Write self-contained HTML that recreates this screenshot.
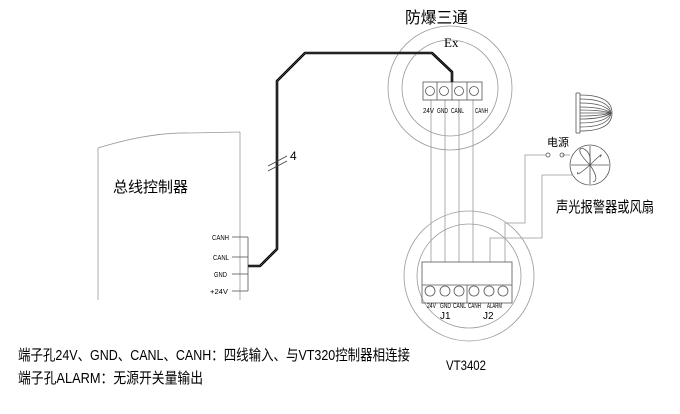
<!DOCTYPE html>
<html><head><meta charset="utf-8"><style>
html,body{margin:0;padding:0;background:#fff;}
svg{display:block;}
text{font-family:"Liberation Sans","Noto Sans CJK SC",sans-serif;fill:#000;}
</style></head><body>
<svg width="680" height="414" viewBox="0 0 680 414" xmlns="http://www.w3.org/2000/svg">
<g fill="none" stroke="#999" stroke-width="0.8">
<circle cx="450" cy="88" r="62"/>
<circle cx="450" cy="88" r="48"/>
<circle cx="469" cy="276" r="65"/>
<circle cx="469" cy="276" r="52"/>
<path d="M98,148 Q150,132 190,133 L240,132"/>
<line x1="98" y1="148" x2="98" y2="300"/>
<line x1="240" y1="132" x2="240" y2="300"/>
<line x1="431" y1="100" x2="431" y2="262"/>
<line x1="445" y1="100" x2="445" y2="262"/>
<line x1="459" y1="100" x2="459" y2="262"/>
<line x1="473" y1="100" x2="473" y2="262"/>
<polyline points="505,262 505,223 525,223 525,155 546,155"/>
<polyline points="490,262 490,238 542,238 542,175 572,175"/>
<line x1="562" y1="155" x2="570" y2="155"/>
</g>
<g fill="none" stroke="#555" stroke-width="0.8">
<rect x="423" y="82" width="59" height="18"/>
<line x1="437" y1="82" x2="437" y2="100"/>
<line x1="452" y1="82" x2="452" y2="100"/>
<line x1="467" y1="82" x2="467" y2="100"/>
<circle cx="430" cy="91" r="4.5"/><circle cx="444" cy="91" r="4.5"/><circle cx="459" cy="91" r="4.5"/><circle cx="474" cy="91" r="4.5"/>
<rect x="422" y="262" width="90" height="41"/>
<line x1="422" y1="285" x2="512" y2="285"/>
<line x1="467" y1="285" x2="467" y2="303"/>
<circle cx="430" cy="291" r="5"/><circle cx="445" cy="291" r="5"/><circle cx="459" cy="291" r="5"/><circle cx="474" cy="291" r="5"/><circle cx="489" cy="291" r="5"/><circle cx="503" cy="291" r="5"/>
<line x1="232" y1="237" x2="248" y2="237"/>
<line x1="232" y1="257" x2="248" y2="257"/>
<line x1="232" y1="274" x2="248" y2="274"/>
<line x1="232" y1="291" x2="248" y2="291"/>
<line x1="248" y1="237" x2="248" y2="291"/>
<circle cx="590" cy="165" r="20"/>
<line x1="571" y1="165" x2="609" y2="165"/>
<line x1="590" y1="146" x2="590" y2="184"/>
<path d="M590,165 Q575,150 582,148 Q592,152 590,165 M590,165 Q605,150 600,157 M590,165 Q600,180 593,182 M590,165 Q575,178 578,172"/>
<line x1="576" y1="93" x2="576" y2="133"/>
<line x1="576" y1="93" x2="580" y2="93"/><line x1="576" y1="133" x2="580" y2="133"/>
<line x1="580" y1="93" x2="580" y2="133"/>
<path d="M580,95 Q612,95 612,113 Q612,131 580,131"/>
<path d="M580,99 Q609,99 611,113 Q609,127 580,127"/>
<path d="M580,103 Q606,103 611,113 Q606,123 580,123"/>
<path d="M580,107 Q603,107 611,113 Q603,119 580,119"/>
<path d="M580,110 Q600,110 611,113 Q600,116 580,116"/>
<line x1="580" y1="113" x2="611" y2="113"/>
<circle cx="548" cy="155" r="2"/><circle cx="562" cy="155" r="2"/>
</g>
<polyline points="248,266 260,266 277,249 277,81 305,53 432,53 452,72 452,82" fill="none" stroke="#000" stroke-width="2.6" stroke-linejoin="round"/>
<polyline points="248,266 260,266 277,249 277,81 305,53 432,53 452,72 452,82" fill="none" stroke="#888" stroke-width="0.5"/>
<line x1="268" y1="166" x2="287" y2="156" stroke="#444" stroke-width="0.8"/>
<line x1="268" y1="171" x2="287" y2="161" stroke="#444" stroke-width="0.8"/>
<text x="290" y="160" font-size="12">4</text>
<text x="405" y="23" font-size="16" textLength="63" lengthAdjust="spacingAndGlyphs">防爆三通</text>
<text x="444" y="47" font-size="13" style="font-family:'Liberation Serif',serif">Ex</text>
<g font-size="7.5">
<text x="423" y="113" textLength="11" lengthAdjust="spacingAndGlyphs">24V</text>
<text x="437" y="113" textLength="11" lengthAdjust="spacingAndGlyphs">GND</text>
<text x="451" y="113" textLength="13" lengthAdjust="spacingAndGlyphs">CANL</text>
<text x="475" y="113" textLength="13" lengthAdjust="spacingAndGlyphs">CANH</text>
<text x="427" y="308" textLength="9" lengthAdjust="spacingAndGlyphs">24V</text>
<text x="440" y="308" textLength="11" lengthAdjust="spacingAndGlyphs">GND</text>
<text x="453" y="308" textLength="13" lengthAdjust="spacingAndGlyphs">CANL</text>
<text x="468" y="308" textLength="13" lengthAdjust="spacingAndGlyphs">CANH</text>
<text x="487" y="308" textLength="15" lengthAdjust="spacingAndGlyphs">ALARM</text>
<text x="212" y="240" textLength="17" lengthAdjust="spacingAndGlyphs">CANH</text>
<text x="213" y="260" textLength="16" lengthAdjust="spacingAndGlyphs">CANL</text>
<text x="214" y="277" textLength="13" lengthAdjust="spacingAndGlyphs">GND</text>
<text x="210" y="294" textLength="18" lengthAdjust="spacingAndGlyphs">+24V</text>
</g>
<text x="440" y="319" font-size="10">J1</text>
<text x="483" y="319" font-size="10">J2</text>
<text x="113" y="192" font-size="15" textLength="75" lengthAdjust="spacingAndGlyphs">总线控制器</text>
<text x="446" y="370" font-size="14" textLength="40" lengthAdjust="spacingAndGlyphs">VT3402</text>
<text x="547" y="146" font-size="11">电源</text>
<text x="556" y="212" font-size="15" textLength="98" lengthAdjust="spacingAndGlyphs">声光报警器或风扇</text>
<text x="18" y="360" font-size="15" textLength="392" lengthAdjust="spacingAndGlyphs">端子孔24V、GND、CANL、CANH：四线输入、与VT320控制器相连接</text>
<text x="18" y="383" font-size="15" textLength="185" lengthAdjust="spacingAndGlyphs">端子孔ALARM：无源开关量输出</text>
</svg>
</body></html>
